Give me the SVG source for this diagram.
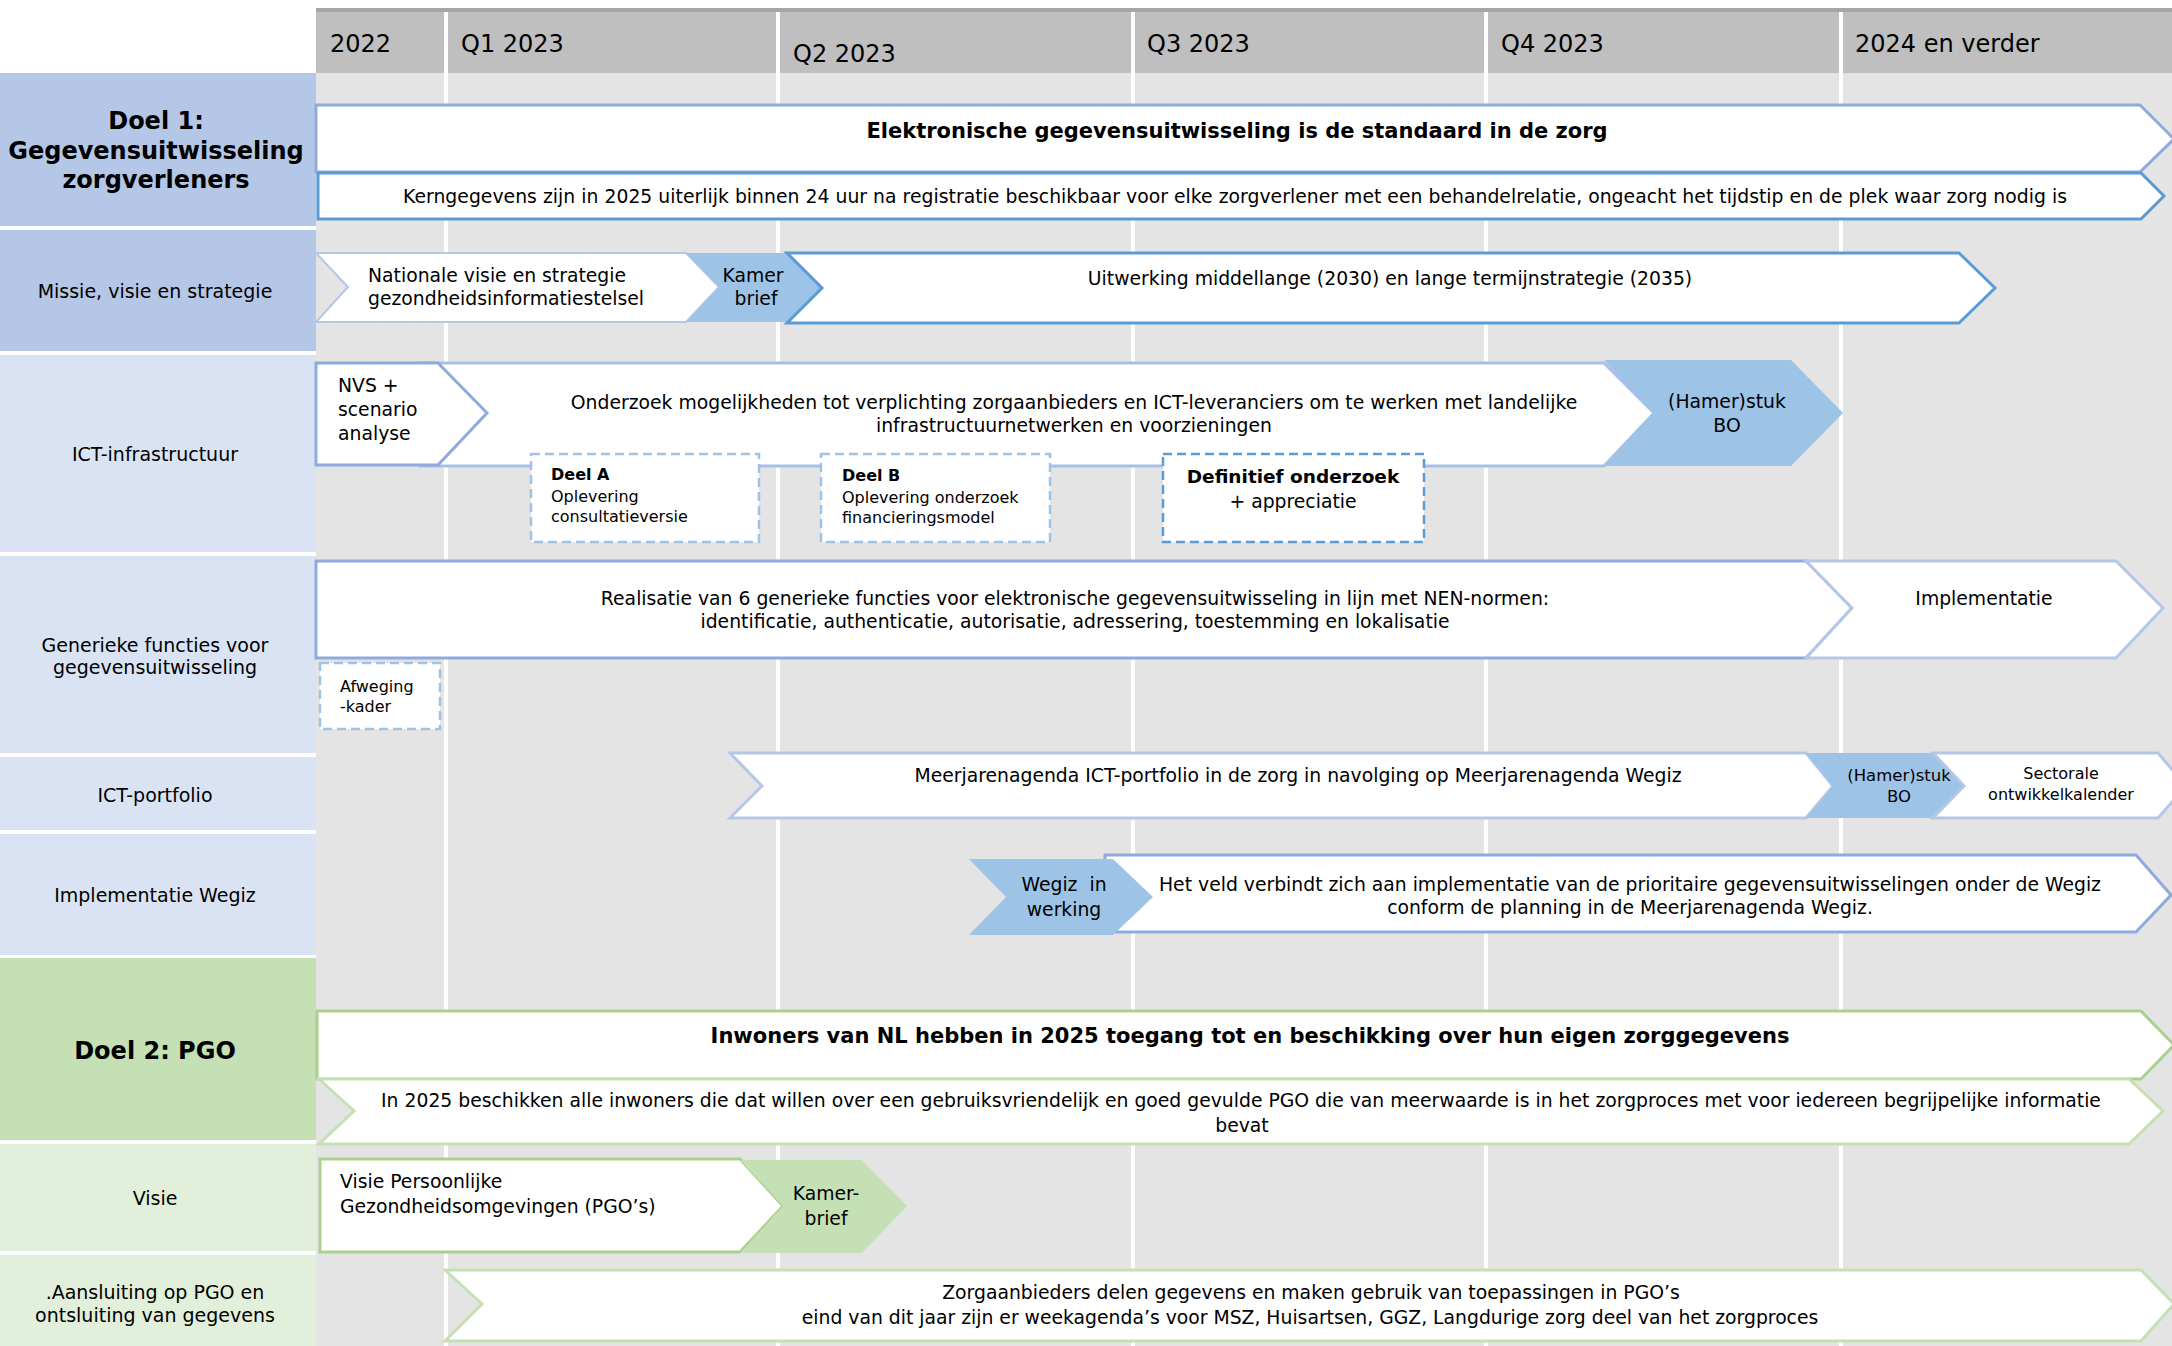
<svg xmlns="http://www.w3.org/2000/svg" width="2172" height="1346" viewBox="0 0 2172 1346">
<style>
text{font-family:"DejaVu Sans",Verdana,sans-serif;fill:#000}
.hd{font-size:24px}
.pl{font-size:19px;text-anchor:middle}
.pb{font-size:24px;font-weight:bold;text-anchor:middle}
.t{font-size:18.8px}
.tb{font-size:21px;font-weight:bold}
.c{text-anchor:middle}
.b{font-weight:bold}
.s{font-size:16px}
.w{fill:#fff}
.sd{stroke:#5b9bd5;stroke-width:3}
.sm{stroke:#8faadc;stroke-width:3}
.sl{stroke:#b4c7e7;stroke-width:3}
.gd{stroke:#a9d18e;stroke-width:3}
.gl{stroke:#c5e0b4;stroke-width:3}
.fb{fill:#9dc3e6}
.fg{fill:#c5e0b4}
.dash{fill:#fff;stroke:#9dc3e6;stroke-width:2.5;stroke-dasharray:9 5}
</style>
<rect width="2172" height="1346" fill="#fff"/>
<g id="grid">
<rect x="316" y="73" width="1856" height="1273" fill="#e4e4e4"/>
<rect x="316" y="8" width="1856" height="4" fill="#a6a6a6"/>
<rect x="316" y="12" width="1856" height="61" fill="#bfbfbf"/>
<g fill="#fff">
<rect x="444" y="12" width="4" height="1334"/>
<rect x="776" y="12" width="4" height="1334"/>
<rect x="1131" y="12" width="4" height="1334"/>
<rect x="1484" y="12" width="4" height="1334"/>
<rect x="1839" y="12" width="4" height="1334"/>
</g>
<text class="hd" x="330" y="52">2022</text>
<text class="hd" x="461" y="52">Q1 2023</text>
<text class="hd" x="793" y="62">Q2 2023</text>
<text class="hd" x="1147" y="52">Q3 2023</text>
<text class="hd" x="1501" y="52">Q4 2023</text>
<text class="hd" x="1855" y="52">2024 en verder</text>
</g>
<g id="lanes">
<g id="lane-doel1"><rect x="0" y="73" width="316" height="153" fill="#b4c7e7"/>
<text class="pb" x="156" y="129">Doel 1:</text><text class="pb" x="156" y="159">Gegevensuitwisseling</text><text class="pb" x="156" y="188">zorgverleners</text></g>
<g id="lane-missie"><rect x="0" y="230" width="316" height="121" fill="#b4c7e7"/>
<text class="pl" x="155" y="298">Missie, visie en strategie</text></g>
<g id="lane-ictinfra"><rect x="0" y="355" width="316" height="197" fill="#dae3f3"/>
<text class="pl" x="155" y="461">ICT-infrastructuur</text></g>
<g id="lane-generiek"><rect x="0" y="556" width="316" height="197" fill="#dae3f3"/>
<text class="pl" x="155" y="652">Generieke functies voor</text><text class="pl" x="155" y="674">gegevensuitwisseling</text></g>
<g id="lane-portfolio"><rect x="0" y="757" width="316" height="73" fill="#dae3f3"/>
<text class="pl" x="155" y="802">ICT-portfolio</text></g>
<g id="lane-wegiz"><rect x="0" y="834" width="316" height="121" fill="#dae3f3"/>
<text class="pl" x="155" y="902">Implementatie Wegiz</text></g>
<g id="lane-doel2"><rect x="0" y="958" width="316" height="182" fill="#c5e0b4"/>
<text class="pb" x="155" y="1059">Doel 2: PGO</text></g>
<g id="lane-visie"><rect x="0" y="1144" width="316" height="107" fill="#e2efda"/>
<text class="pl" x="155" y="1205">Visie</text></g>
<g id="lane-aansluiting"><rect x="0" y="1255" width="316" height="91" fill="#e2efda"/>
<text class="pl" x="155" y="1299">.Aansluiting op PGO en</text><text class="pl" x="155" y="1322">ontsluiting van gegevens</text></g>
</g>
<g id="connectors"></g>
<g id="n-elektronisch"><polygon class="w sm" points="316,105 2140,105 2174,139 2140,172 316,172"/>
<text class="tb c" x="1237" y="138">Elektronische gegevensuitwisseling is de standaard in de zorg</text></g>
<g id="n-kerngegevens"><polygon class="w sd" points="318,173 2141,173 2164,196 2141,219 318,219"/>
<text class="t c" x="1235" y="203" textLength="1664" lengthAdjust="spacing">Kerngegevens zijn in 2025 uiterlijk binnen 24 uur na registratie beschikbaar voor elke zorgverlener met een behandelrelatie, ongeacht het tijdstip en de plek waar zorg nodig is</text></g>
<g id="n-nationale"><polygon class="w" stroke="#b4c7e7" stroke-width="2" points="316,253 686,253 719,287 686,322 316,322 348,287"/>
<text class="t" x="368" y="282">Nationale visie en strategie</text><text class="t" x="368" y="305">gezondheidsinformatiestelsel</text></g>
<g id="n-kamerbrief1"><polygon class="fb" points="686,253 787,253 822,287 787,322 686,322 719,287"/>
<text class="t c" x="753" y="282">Kamer</text><text class="t c" x="756" y="305">brief</text></g>
<g id="n-uitwerking"><polygon class="w sd" points="787,253 1959,253 1995,288 1959,323 787,323 822,288"/>
<text class="t c" x="1390" y="285">Uitwerking middellange (2030) en lange termijnstrategie (2035)</text></g>
<g id="n-onderzoek"><polygon class="w" stroke="#a8bfe5" stroke-width="3" points="420,363 1604,363 1654,413 1604,466 420,466"/>
<text class="t c" x="1074" y="409">Onderzoek mogelijkheden tot verplichting zorgaanbieders en ICT-leveranciers om te werken met landelijke</text>
<text class="t c" x="1074" y="432">infrastructuurnetwerken en voorzieningen</text></g>
<g id="n-nvs"><polygon class="w sm" points="316,363 438,363 487,413 438,465 316,465"/>
<text class="t" x="338" y="392">NVS +</text><text class="t" x="338" y="416">scenario</text><text class="t" x="338" y="440">analyse</text></g>
<g id="n-hamer1"><polygon class="fb" points="1604,360 1791,360 1843,413 1791,466 1604,466 1654,413"/>
<text class="t c" x="1727" y="408">(Hamer)stuk</text><text class="t c" x="1727" y="432">BO</text></g>
<g id="n-deelA"><rect class="dash" x="531" y="454" width="228" height="88"/>
<text class="s b" x="551" y="480">Deel A</text><text class="s" x="551" y="502">Oplevering</text><text class="s" x="551" y="522">consultatieversie</text></g>
<g id="n-deelB"><rect class="dash" x="821" y="454" width="229" height="88"/>
<text class="s b" x="842" y="481">Deel B</text><text class="s" x="842" y="503">Oplevering onderzoek</text><text class="s" x="842" y="523">financieringsmodel</text></g>
<g id="n-definitief"><rect class="dash" style="stroke:#5b9bd5" x="1163" y="454" width="261" height="88"/>
<text class="b c" x="1293" y="483" style="font-size:18.5px">Definitief onderzoek</text><text class="t c" x="1293" y="508">+ appreciatie</text></g>
<g id="n-realisatie"><polygon class="w sm" points="316,561 1806,561 1852,608 1806,658 316,658"/>
<text class="t c" x="1075" y="605">Realisatie van 6 generieke functies voor elektronische gegevensuitwisseling in lijn met NEN-normen:</text>
<text class="t c" x="1075" y="628">identificatie, authenticatie, autorisatie, adressering, toestemming en lokalisatie</text></g>
<g id="n-implementatie"><polygon class="w sl" points="1806,561 2116,561 2163,608 2116,658 1806,658 1852,608"/>
<text class="t c" x="1984" y="605">Implementatie</text></g>
<g id="n-afweging"><rect class="dash" x="320" y="663" width="120" height="66"/>
<text class="s" x="340" y="692">Afweging</text><text class="s" x="340" y="712">-kader</text></g>
<g id="n-meerjaren"><polygon class="w sl" points="730,753 1806,753 1833,786 1806,818 730,818 762,786"/>
<text class="t c" x="1298" y="782">Meerjarenagenda ICT-portfolio in de zorg in navolging op Meerjarenagenda Wegiz</text></g>
<g id="n-hamer2"><polygon class="fb" points="1806,753 1937,753 1966,786 1937,818 1806,818 1833,786"/>
<text class="c" x="1899" y="781" style="font-size:16.5px">(Hamer)stuk</text><text class="c" x="1899" y="802" style="font-size:16.5px">BO</text></g>
<g id="n-sectorale"><polygon class="w sl" points="1933,753 2158,753 2186,786 2158,818 1933,818 1964,786"/>
<text class="s c" x="2061" y="779">Sectorale</text><text class="s c" x="2061" y="800">ontwikkelkalender</text></g>
<g id="n-hetveld"><polygon class="w sm" points="1105,855 2136,855 2171,895 2136,932 1105,932"/>
<text class="t c" x="1630" y="891">Het veld verbindt zich aan implementatie van de prioritaire gegevensuitwisselingen onder de Wegiz</text>
<text class="t c" x="1630" y="914">conform de planning in de Meerjarenagenda Wegiz.</text></g>
<g id="n-wegiz"><polygon class="fb" points="969,859 1113,859 1153,897 1113,935 969,935 1006,897"/>
<text class="t c" x="1064" y="891">Wegiz&#160; in</text><text class="t c" x="1064" y="916">werking</text></g>
<g id="n-inwoners"><polygon class="w gd" points="317,1011 2141,1011 2174,1045 2141,1079 317,1079"/>
<text class="tb c" x="1250" y="1043">Inwoners van NL hebben in 2025 toegang tot en beschikking over hun eigen zorggegevens</text></g>
<g id="n-in2025"><polygon class="w gl" points="319,1079 2129,1079 2163,1111 2129,1144 319,1144 354,1111"/>
<text class="t c" x="1241" y="1107">In 2025 beschikken alle inwoners die dat willen over een gebruiksvriendelijk en goed gevulde PGO die van meerwaarde is in het zorgproces met voor iedereen begrijpelijke informatie</text>
<text class="t c" x="1242" y="1132">bevat</text></g>
<g id="n-visie"><polygon class="w gd" points="320,1159 740,1159 783,1206 740,1252 320,1252"/>
<text class="t" x="340" y="1188">Visie Persoonlijke</text><text class="t" x="340" y="1213">Gezondheidsomgevingen (PGO’s)</text></g>
<g id="n-kamerbrief2"><polygon class="fg" points="740,1160 862,1160 907,1206 862,1253 740,1253 783,1206"/>
<text class="t c" x="826" y="1200">Kamer-</text><text class="t c" x="826" y="1225">brief</text></g>
<g id="n-aansluiting"><polygon class="w gl" points="445,1270 2141,1270 2174,1304 2141,1341 445,1341 482,1304"/>
<text class="t c" x="1311" y="1299">Zorgaanbieders delen gegevens en maken gebruik van toepassingen in PGO’s</text>
<text class="t c" x="1310" y="1324">eind van dit jaar zijn er weekagenda’s voor MSZ, Huisartsen, GGZ, Langdurige zorg deel van het zorgproces</text></g>
</svg>
